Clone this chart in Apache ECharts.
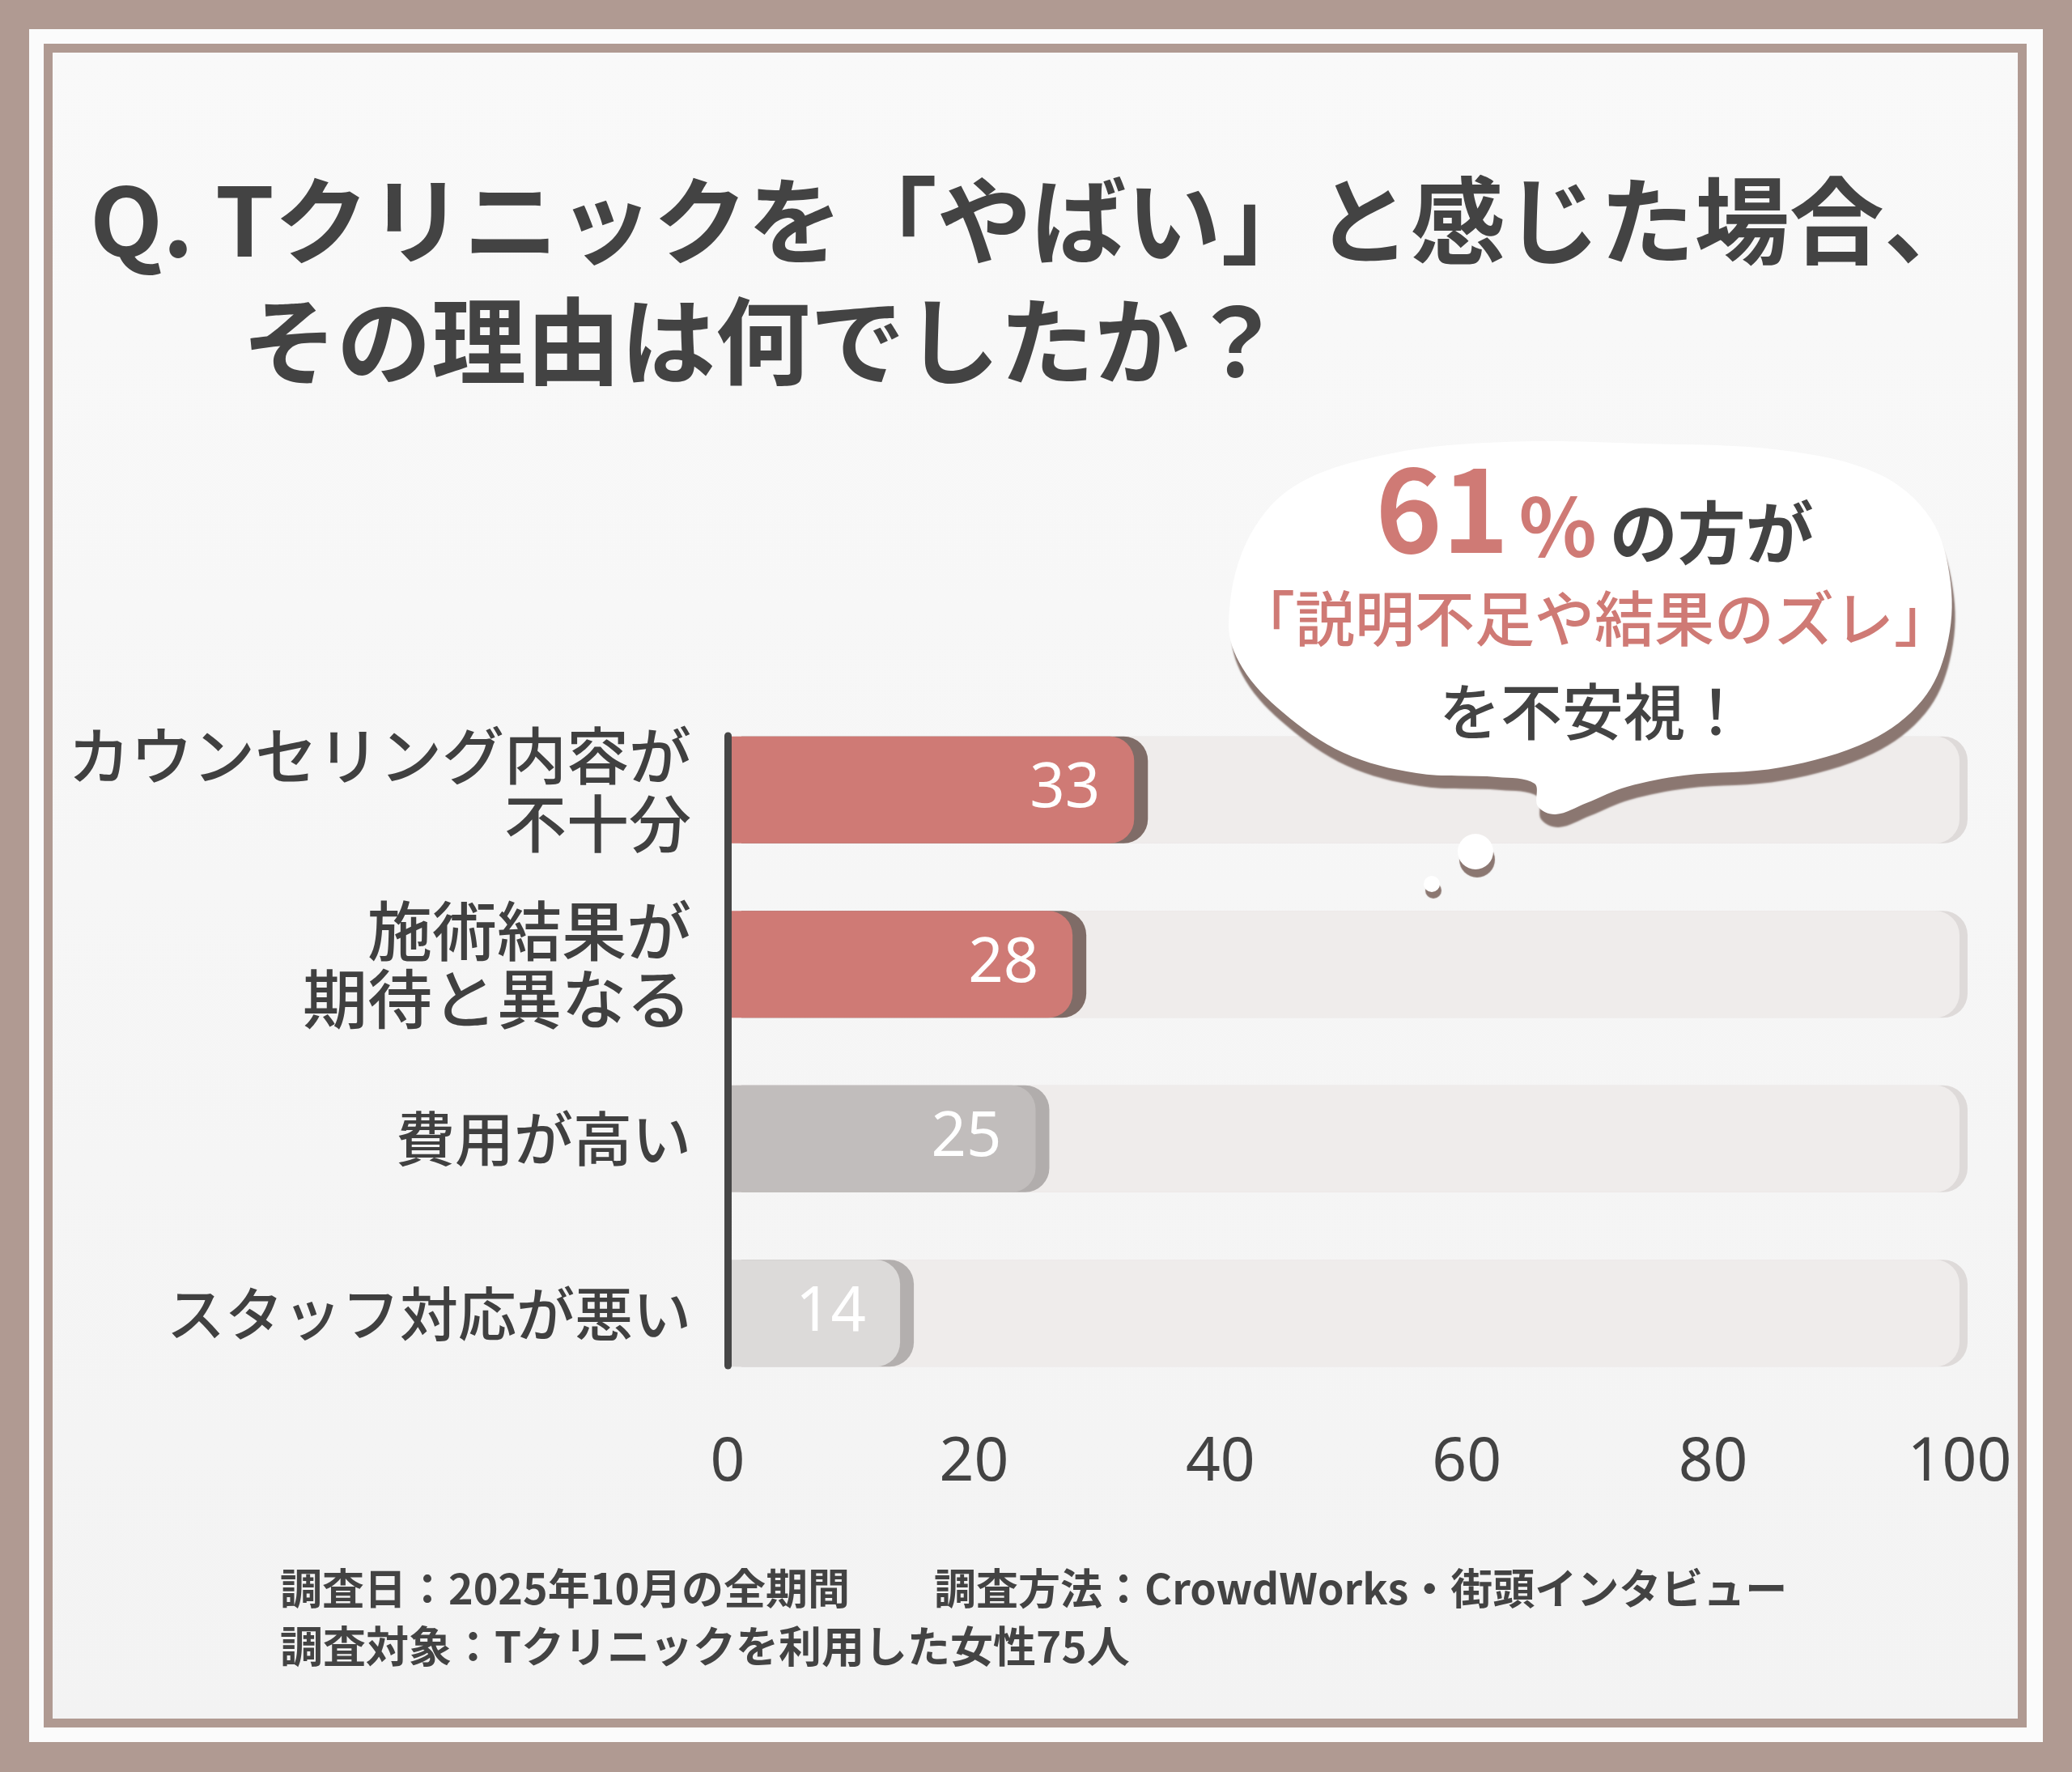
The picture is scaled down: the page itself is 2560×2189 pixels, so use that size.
<!DOCTYPE html>
<html lang="ja">
<head>
  <meta charset="UTF-8" />
  <title>Tクリニック やばい理由</title>
  <style>
    * { margin: 0; padding: 0; }
    html, body { width: 2560px; height: 2189px; background: #b09a92; }
    #chart { width: 2560px; height: 2189px; }
  </style>
</head>
<body>
  <div id="chart"></div>
  <script src="https://cdn.jsdelivr.net/npm/echarts/dist/echarts.min.js"></script>
  <script>
    // データ
    var categories = ['カウンセリング内容が\n不十分', '施術結果が\n期待と異なる', '費用が高い', 'スタッフ対応が悪い'];
    var values = [33, 28, 25, 14];
    var barColors = ['#cf7a75', '#cf7a75', '#c1bdbc', '#dcdad9'];
    var barShadows = ['#7f6c67', '#7f6c67', '#b1adac', '#b3afae'];
    var xMin = 0, xMax = 100, xStep = 20;

    var titleLines = ['Q. Tクリニックを「やばい」と感じた場合、', 'その理由は何でしたか？'];
    var noteLines = ['調査日：2025年10月の全期間　　調査方法：CrowdWorks・街頭インタビュー', '調査対象：Tクリニックを利用した女性75人'];

    var JP = '"Noto Sans CJK JP", sans-serif';
    var dark = '#434343';
    var red = '#cf7a75';

    // 項目ラベルごとの文字サイズ（元画像は上2つの字間が広い）
    var labelSizes = [77, 80, 73, 72];
    var labelRich = {};
    labelSizes.forEach(function (s, i) {
      labelRich['s' + i] = { fontSize: s, lineHeight: 84, color: '#404040', fontFamily: JP, fontWeight: 500 };
    });

    var chart = echarts.init(document.getElementById('chart'));

    var barData = values.map(function (v, i) {
      return {
        value: v,
        itemStyle: {
          color: barColors[i],
          borderRadius: [0, 30, 30, 0],
          shadowColor: barShadows[i],
          shadowOffsetX: 17,
          shadowBlur: 0
        }
      };
    });

    var options = {
      backgroundColor: '#b09a92',
      animation: false,
      grid: [
        { left: 899, top: 868, width: 1522, height: 862 }, // 棒グラフ
        { left: 899, top: 909, width: 1522, height: 778 }  // 縦軸の線だけ
      ],
      xAxis: [
        {
          type: 'value', gridIndex: 0,
          min: xMin, max: xMax, interval: xStep,
          axisLine: { show: false },
          axisTick: { show: false },
          splitLine: { show: false },
          axisLabel: { margin: 40, fontSize: 75, color: dark, fontFamily: '"Noto Sans", sans-serif' }
        },
        { type: 'value', gridIndex: 1, show: false, min: xMin, max: xMax }
      ],
      yAxis: [
        {
          type: 'category', gridIndex: 0, inverse: true,
          data: categories,
          axisLine: { show: false },
          axisTick: { show: false },
          axisLabel: {
            margin: 45,
            formatter: function (value, idx) {
              return value.split('\n').map(function (line) {
                return '{s' + idx + '|' + line + '}';
              }).join('\n');
            },
            rich: labelRich
          }
        },
        {
          type: 'category', gridIndex: 1, inverse: true, z: 5,
          data: categories,
          axisLine: { show: true, lineStyle: { color: '#464646', width: 9 } },
          axisTick: { show: false },
          axisLabel: { show: false }
        }
      ],
      series: [
        {
          type: 'bar',
          xAxisIndex: 0, yAxisIndex: 0,
          barWidth: 132,
          data: barData,
          showBackground: true,
          backgroundStyle: {
            color: '#efeceb',
            borderRadius: [0, 30, 30, 0],
            shadowColor: '#dedad9',
            shadowOffsetX: 10,
            shadowBlur: 0
          },
          label: {
            show: true,
            position: 'insideRight',
            distance: 42,
            color: '#ffffff',
            fontSize: 76,
            fontFamily: '"Liberation Sans Narrow", "Noto Sans", sans-serif'
          }
        }
      ],
      graphic: {
        elements: [
          // 枠
          { type: 'rect', z: -10, shape: { x: 36, y: 36, width: 2488, height: 2116 }, style: { fill: '#fbfbfb' } },
          { type: 'rect', z: -10, shape: { x: 65, y: 65, width: 2428, height: 2058 },
            style: { fill: new echarts.graphic.LinearGradient(0, 0, 0, 1, [
              { offset: 0, color: '#f9f9f9' }, { offset: 1, color: '#f3f3f3' }
            ]) } },
          { type: 'rect', z: -8, shape: { x: 59.5, y: 59.5, width: 2439, height: 2069 },
            style: { fill: 'none', stroke: '#b09a92', lineWidth: 11 } },
          // タイトル
          { type: 'text', x: 111, y: 273, style: { text: titleLines[0], fontSize: 117, fontWeight: 'bold', fontFamily: JP, fill: dark, verticalAlign: 'middle' } },
          { type: 'text', x: 299, y: 422, style: { text: titleLines[1], fontSize: 117, fontWeight: 'bold', fontFamily: JP, fill: dark, verticalAlign: 'middle' } },
          // 注記
          { type: 'text', x: 346, y: 1962, style: { text: noteLines[0], fontSize: 52, fontWeight: 'bold', fontFamily: JP, fill: dark, verticalAlign: 'middle' } },
          { type: 'text', x: 346, y: 2034, style: { text: noteLines[1], fontSize: 53, fontWeight: 'bold', fontFamily: JP, fill: dark, verticalAlign: 'middle' } },
          // 吹き出し
          {
            type: 'polygon', z: 50,
            shape: {
              smooth: 0.35,
              points: [
                [1518, 770], [1540, 670], [1600, 600], [1720, 560], [1860, 546], [2030, 548],
                [2200, 556], [2320, 585], [2385, 640], [2410, 720], [2405, 800], [2375, 865],
                [2310, 915], [2200, 948], [2080, 958], [2010, 972], [1960, 992], [1922, 1006],
                [1900, 996], [1896, 968], [1850, 960], [1750, 955], [1660, 930], [1585, 880], [1535, 825]
              ]
            },
            style: { fill: '#ffffff', shadowColor: '#8b7771', shadowOffsetX: 4, shadowOffsetY: 16, shadowBlur: 2 }
          },
          { type: 'circle', z: 50, shape: { cx: 1823, cy: 1052, r: 22 },
            style: { fill: '#ffffff', shadowColor: '#8b7771', shadowOffsetX: 2, shadowOffsetY: 10, shadowBlur: 1 } },
          { type: 'circle', z: 50, shape: { cx: 1769, cy: 1092, r: 10 },
            style: { fill: '#ffffff', shadowColor: '#8b7771', shadowOffsetX: 2, shadowOffsetY: 8, shadowBlur: 1 } },
          {
            type: 'text', z: 51, x: 1970, y: 700,
            style: {
              text: '{a|61}{b|%}{c|の方が}',
              align: 'center', verticalAlign: 'bottom',
              rich: {
                a: { fontSize: 140, fontWeight: 'bold', fontFamily: JP, fill: red, verticalAlign: 'bottom', lineHeight: 150 },
                b: { fontSize: 100, fontWeight: 'bold', fontFamily: JP, fill: red, verticalAlign: 'bottom', lineHeight: 128, padding: [0, 16, 0, 12] },
                c: { fontSize: 84, fontWeight: 'bold', fontFamily: JP, fill: dark, verticalAlign: 'bottom', lineHeight: 114 }
              }
            }
          },
          { type: 'text', z: 51, x: 1970, y: 764,
            style: { text: '「説明不足や結果のズレ」', fontSize: 74, fontWeight: 500, fontFamily: JP, fill: red, align: 'center', verticalAlign: 'middle' } },
          { type: 'text', z: 51, x: 1968, y: 879,
            style: { text: 'を不安視！', fontSize: 76, fontWeight: 500, fontFamily: JP, fill: dark, align: 'center', verticalAlign: 'middle' } }
        ]
      }
    };

    chart.setOption(options);
  </script>
</body>
</html>
